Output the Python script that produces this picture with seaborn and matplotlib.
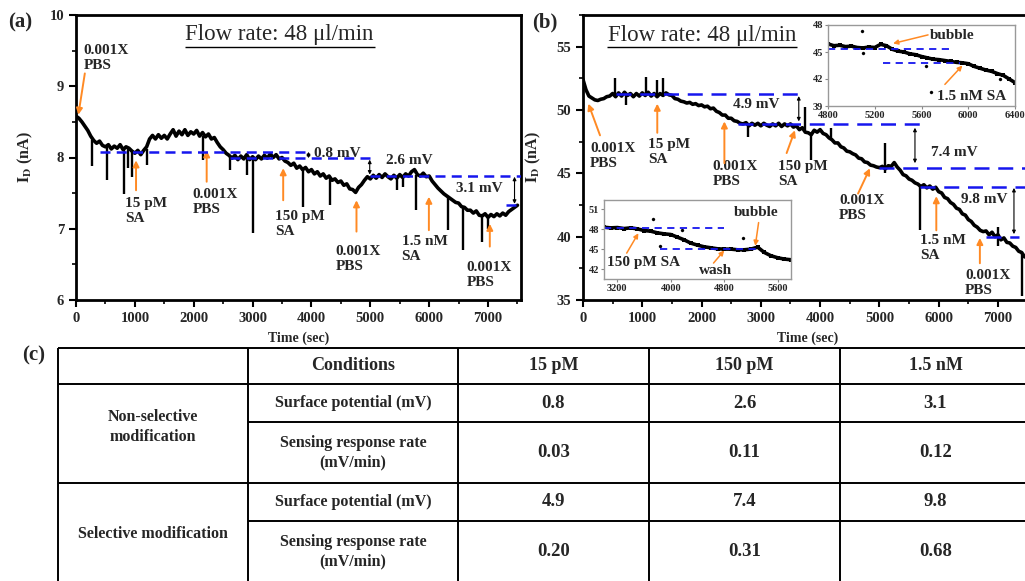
import numpy as np
import matplotlib
matplotlib.use('Agg')
import matplotlib.pyplot as plt
import seaborn as sns
from matplotlib.ticker import MultipleLocator

# ---------------- panel (a): non-selective modification ----------------
time_a = np.arange(0, 7501, 50)
current_a = [
    8.58, 8.55, 8.50, 8.44, 8.38, 8.30, 8.24, 8.20, 8.23, 8.17,
    8.15, 8.18, 8.12, 8.16, 8.13, 8.18, 8.11, 8.15, 8.13, 8.09,
    8.06, 8.10, 8.04, 8.10, 8.15, 8.26, 8.31, 8.26, 8.32, 8.27,
    8.31, 8.26, 8.33, 8.39, 8.30, 8.37, 8.32, 8.39, 8.31, 8.36,
    8.33, 8.38, 8.30, 8.35, 8.29, 8.33, 8.26, 8.28, 8.21, 8.15,
    8.11, 8.06, 8.03, 7.99, 8.03, 7.97, 8.02, 7.98, 8.04, 7.97,
    8.01, 7.97, 8.02, 7.98, 8.03, 7.99, 8.05, 8.00, 8.04, 7.98,
    8.00, 7.95, 7.93, 7.89, 7.92, 7.85, 7.88, 7.83, 7.86, 7.80,
    7.83, 7.77, 7.80, 7.74, 7.77, 7.71, 7.74, 7.68, 7.70, 7.65,
    7.67, 7.61, 7.63, 7.56, 7.55, 7.51, 7.58, 7.62, 7.68, 7.73,
    7.70, 7.75, 7.71, 7.76, 7.72, 7.77, 7.73, 7.70, 7.75, 7.71,
    7.76, 7.72, 7.77, 7.74, 7.80, 7.83, 7.76, 7.74, 7.78, 7.73,
    7.74, 7.67, 7.62, 7.57, 7.53, 7.49, 7.46, 7.43, 7.40, 7.37,
    7.36, 7.31, 7.30, 7.26, 7.26, 7.22, 7.25, 7.19, 7.18, 7.21,
    7.16, 7.20, 7.17, 7.21, 7.18, 7.22, 7.19, 7.24, 7.27, 7.30,
    7.33,
]
spike_t_a = [266, 521, 815, 889, 957, 1200, 2150, 2610, 2910, 3000,
             3850, 4310, 5450, 5560, 5784, 6320, 6576, 6905, 7000]
spike_lo_a = [7.88, 7.68, 7.49, 7.85, 7.72, 7.90, 7.96, 7.82, 7.75, 6.94,
              7.30, 7.33, 7.55, 7.58, 7.26, 6.98, 6.70, 6.82, 7.00]
spike_hi_a = [8.25, 8.15, 8.12, 8.12, 8.10, 8.12, 8.30, 8.04, 8.00, 8.00,
              7.84, 7.72, 7.72, 7.73, 7.76, 7.46, 7.31, 7.19, 7.17]

base_y_a = [8.08, 7.99, 7.735, 7.34]
base_x0_a = [407, 2615, 4990, 7300]
base_x1_a = [3940, 5045, 7560, 7560]

shift_x_a = [3950, 4990, 7450]
shift_top_a = [8.08, 7.97, 7.73]
shift_bot_a = [7.99, 7.76, 7.35]
shift_labels_a = ['0.8 mV', '2.6 mV', '3.1 mV']
shift_lx_a = [4041, 5275, 6463]
shift_ly_a = [8.06, 7.955, 7.57]

event_labels_a = ['0.001X\nPBS', '15 pM\nSA', '0.001X\nPBS', '150 pM\nSA',
                  '0.001X\nPBS', '1.5 nM\nSA', '0.001X\nPBS']
event_lx_a = [124, 832, 1981, 3379, 4414, 5530, 6633]
event_ly_a = [9.40, 7.25, 7.37, 7.06, 6.57, 6.71, 6.35]
arrow_tail_a = [(150, 9.18), (1020, 7.54), (2220, 7.66), (3520, 7.40),
                (4765, 6.96), (5995, 6.98), (7030, 6.75)]
arrow_head_a = [(40, 8.60), (1020, 7.96), (2220, 8.10), (3520, 7.85),
                (4765, 7.40), (5995, 7.45), (7030, 7.07)]

# ---------------- panel (b): selective modification ----------------
time_b = np.arange(0, 7451, 50)
current_b = [
    52.4, 51.6, 51.1, 50.95, 50.8, 50.75, 50.85, 50.9, 51.05, 51.1,
    51.3, 51.05, 51.35, 51.1, 51.4, 51.15, 51.3, 51.05, 51.3, 51.1,
    51.35, 51.15, 51.4, 51.1, 51.3, 51.05, 51.3, 51.15, 51.35, 51.2,
    51.15, 50.9, 50.85, 50.7, 50.65, 50.55, 50.6, 50.45, 50.5, 50.35,
    50.4, 50.25, 50.3, 50.1, 50.15, 49.9, 49.8, 49.6, 49.6, 49.35,
    49.35, 49.15, 49.1, 48.95, 48.9, 49.0, 48.75, 48.95, 48.8, 48.95,
    48.75, 48.95, 48.8, 48.7, 48.9, 48.75, 48.95, 48.7, 48.9, 48.75,
    48.9, 48.65, 48.75, 48.45, 48.6, 48.25, 48.2, 48.05, 48.4, 48.25,
    48.45, 48.15, 48.05, 47.8, 47.65, 47.4, 47.4, 47.1, 47.0, 46.75,
    46.7, 46.55, 46.45, 46.2, 46.15, 45.9, 45.85, 45.65, 45.6, 45.5,
    45.45, 45.55, 45.35, 45.6, 45.55, 45.85, 45.5, 45.25, 44.9, 44.8,
    44.55, 44.45, 44.25, 44.15, 43.95, 44.1, 43.85, 44.0, 43.75, 43.9,
    43.55, 43.45, 43.1, 43.0, 42.7, 42.55, 42.25, 42.15, 41.8, 41.7,
    41.35, 41.2, 40.9, 40.75, 40.5, 40.4, 40.45, 40.15, 40.35, 40.0,
    40.15, 39.75, 39.9, 39.55, 39.5, 39.25, 39.15, 38.85, 38.75, 38.4,
]
spike_t_b = [540, 725, 1062, 1253, 1343, 2790, 3745, 3845, 4190, 5090,
             5680, 7000, 7400]
spike_lo_b = [51.2, 50.4, 51.1, 51.1, 51.1, 47.9, 48.4, 46.05, 47.7, 45.0,
              40.5, 39.3, 35.3]
spike_hi_b = [52.5, 51.3, 52.6, 52.4, 52.5, 48.9, 50.2, 48.2, 48.55, 47.4,
              44.1, 40.8, 38.7]

base_y_b = [51.25, 48.9, 45.45, 43.95, 40.0]
base_x0_b = [560, 2610, 4990, 5680, 6790]
base_x1_b = [3690, 5820, 7500, 7500, 7350]

shift_x_b = [3640, 5600, 7270]
shift_top_b = [51.1, 48.6, 43.85]
shift_bot_b = [49.1, 45.8, 40.2]
shift_labels_b = ['4.9 mV', '7.4 mV', '9.8 mV']
shift_lx_b = [2535, 5863, 6369]
shift_ly_b = [50.4, 46.63, 42.9]

event_labels_b = ['0.001X\nPBS', '15 pM\nSA', '0.001X\nPBS', '150 pM\nSA',
                  '0.001X\nPBS', '1.5 nM\nSA', '0.001X\nPBS']
event_lx_b = [118, 1101, 2187, 3294, 4322, 5683, 6442]
event_ly_b = [46.38, 46.68, 44.93, 44.93, 42.24, 39.07, 36.38]
arrow_tail_b = [(287, 48.0), (1253, 48.2), (2385, 45.8), (3435, 46.6),
                (4640, 43.4), (5960, 40.5), (6695, 37.9)]
arrow_head_b = [(90, 50.5), (1253, 50.5), (2385, 49.1), (3575, 48.4),
                (4840, 45.4), (5960, 43.2), (6695, 39.9)]

# ---------------- insets of panel (b) ----------------
time_in1 = np.arange(4800, 6401, 50)
current_in1 = [45.9, 45.7, 45.75, 45.6, 45.65, 45.5, 45.45, 45.55, 45.5, 45.85,
               45.7, 45.3, 45.1, 45.0, 44.8, 44.7, 44.5, 44.35, 44.2, 44.15,
               44.05, 43.95, 43.85, 43.8, 43.7, 43.4, 43.2, 43.0, 42.85, 42.6,
               42.4, 42.0, 41.6]
stray_t_in1 = [5090, 5100, 5640, 6270, 5680]
stray_i_in1 = [47.3, 44.9, 43.5, 42.0, 40.6]

time_in2 = np.arange(3000, 5801, 100)
current_in2 = [48.3, 48.2, 48.25, 48.1, 48.2, 48.05, 47.8, 47.7, 47.45, 47.3,
               47.2, 46.8, 46.4, 45.9, 45.6, 45.35, 45.2, 45.05, 45.0, 45.0,
               44.9, 44.9, 45.0, 45.3, 44.5, 44.0, 43.7, 43.5, 43.4]
stray_t_in2 = [3730, 3840, 4165, 5080]
stray_i_in2 = [49.55, 45.4, 47.9, 46.75]

# ---------------- table (c) ----------------
conditions = ['15 pM', '150 pM', '1.5 nM']
groups = ['Non-selective\nmodification', 'Selective modification']
metrics = ['Surface potential (mV)', 'Sensing response rate\n(mV/min)']
surface_nonsel = [0.8, 2.6, 3.1]
rate_nonsel = [0.03, 0.11, 0.12]
surface_sel = [4.9, 7.4, 9.8]
rate_sel = [0.20, 0.31, 0.68]

ORANGE = '#FF8A24'
BLUE = '#1616EE'

sns.set_style('ticks')
plt.rcParams['font.family'] = ['Liberation Serif', 'DejaVu Serif']
plt.rcParams['font.weight'] = 'bold'
plt.rcParams['axes.labelweight'] = 'bold'
plt.rcParams['mathtext.fontset'] = 'stix'

W, H = 1025, 581
fig = plt.figure(figsize=(W / 100, H / 100), dpi=100)


def rect(l, t, r, b):
    return [l / W, 1 - b / H, (r - l) / W, (b - t) / H]


ax_t = fig.add_axes([0, 0, 1, 1], zorder=-1)
ax_a = fig.add_axes(rect(76, 15, 521, 300))
ax_b = fig.add_axes(rect(583, 15, 1027, 300))
ins1 = fig.add_axes(rect(828, 25, 1015, 106))
ins2 = fig.add_axes(rect(604, 200, 791, 279))


def style_main(ax, xlim, ylim, yticks, yminor):
    ax.set_xlim(*xlim)
    ax.set_ylim(*ylim)
    ax.set_xticks(range(0, 7001, 1000))
    ax.xaxis.set_minor_locator(MultipleLocator(500))
    ax.set_yticks(yticks)
    ax.yaxis.set_minor_locator(MultipleLocator(yminor))
    ax.tick_params(which='major', direction='out', length=5, width=1.5,
                   labelsize=10.5, color='black')
    ax.tick_params(which='minor', direction='out', length=3, width=1.2,
                   color='black')
    for s in ax.spines.values():
        s.set_linewidth(2)
        s.set_color('black')
    ax.set_xlabel('Time (sec)', fontsize=10)
    ax.set_ylabel(r'$\mathbf{I}_\mathbf{D}$ (nA)', fontsize=11.5)
    ax.xaxis.set_label_coords(0.5, -0.112)


def draw_panel(ax, t, cur, st, slo, shi, by, bx0, bx1, dash,
               sx, stop, sbot, slab, slx, sly, elab, elx, ely, tails, heads):
    sns.lineplot(x=t, y=cur, ax=ax, color='black', linewidth=2.6,
                 estimator=None, sort=False)
    ax.vlines(st, slo, shi, color='black', lw=1.7)
    ax.hlines(by, bx0, bx1, colors=BLUE, linestyles=[dash], lw=1.8, zorder=4)
    for x, a, b in zip(sx, stop, sbot):
        ax.annotate('', xy=(x, b), xytext=(x, a),
                    arrowprops=dict(arrowstyle='<|-|>', color='black', lw=0.8,
                                    mutation_scale=5, shrinkA=0, shrinkB=0))
    for s, x, y in zip(slab, slx, sly):
        ax.text(x, y, s, fontsize=11, ha='left', va='center')
    for s, x, y in zip(elab, elx, ely):
        ax.text(x, y, s, fontsize=11, ha='left', va='center', linespacing=1.2)
    for tl, hd in zip(tails, heads):
        ax.annotate('', xy=hd, xytext=tl,
                    arrowprops=dict(arrowstyle='-|>', color=ORANGE, lw=1.4,
                                    mutation_scale=9, shrinkA=0, shrinkB=0))


# panel (a)
draw_panel(ax_a, time_a, current_a, spike_t_a, spike_lo_a, spike_hi_a,
           base_y_a, base_x0_a, base_x1_a, (0, (4, 2.5)),
           shift_x_a, shift_top_a, shift_bot_a, shift_labels_a, shift_lx_a, shift_ly_a,
           event_labels_a, event_lx_a, event_ly_a, arrow_tail_a, arrow_head_a)
style_main(ax_a, (0, 7560), (6, 10), [6, 7, 8, 9, 10], 0.5)
ax_a.yaxis.set_label_coords(-0.092, 0.5)
ax_a.text(3460, 9.72, u'Flow rate: 48 \u03bcl/min', fontsize=16.5,
          fontweight='normal', ha='center', va='center')
ax_a.hlines(9.555, 1850, 5075, color='black', lw=1)

# panel (b)
draw_panel(ax_b, time_b, current_b, spike_t_b, spike_lo_b, spike_hi_b,
           base_y_b, base_x0_b, base_x1_b, (0, (6, 3.5)),
           shift_x_b, shift_top_b, shift_bot_b, shift_labels_b, shift_lx_b, shift_ly_b,
           event_labels_b, event_lx_b, event_ly_b, arrow_tail_b, arrow_head_b)
style_main(ax_b, (0, 7490), (35, 57.5), [35, 40, 45, 50, 55], 2.5)
ax_b.yaxis.set_label_coords(-0.09, 0.5)
ax_b.xaxis.set_label_coords(0.507, -0.112)
ax_b.text(2007, 55.92, u'Flow rate: 48 \u03bcl/min', fontsize=16.5,
          fontweight='normal', ha='center', va='center')
ax_b.hlines(55.0, 405, 3610, color='black', lw=1)


def style_inset(ax, xlim, ylim, xt, yt):
    ax.set_xlim(*xlim)
    ax.set_ylim(*ylim)
    ax.set_xticks(xt)
    ax.set_yticks(yt)
    ax.set_xlabel('')
    ax.set_ylabel('')
    ax.tick_params(direction='out', length=2, width=0.8, labelsize=7.5,
                   pad=1.5, color='#888888')
    for s in ax.spines.values():
        s.set_linewidth(1)
        s.set_color('#999999')


sns.lineplot(x=time_in1, y=current_in1, ax=ins1, color='black', linewidth=2.6,
             marker='s', markersize=2.5, markeredgewidth=0, estimator=None, sort=False)
sns.scatterplot(x=stray_t_in1, y=stray_i_in1, ax=ins1, color='black', s=5,
                edgecolor=None)
ins1.hlines([45.35, 43.8], [4800, 5270], [5840, 5930], colors=BLUE,
            linestyles=[(0, (4, 3))], lw=1.3)
ins1.annotate('', xy=(5357, 45.95), xytext=(5656, 46.9),
              arrowprops=dict(arrowstyle='-|>', color=ORANGE, lw=1.1,
                              mutation_scale=7, shrinkA=0, shrinkB=0))
ins1.annotate('', xy=(5950, 43.5), xytext=(5800, 41.4),
              arrowprops=dict(arrowstyle='-|>', color=ORANGE, lw=1.1,
                              mutation_scale=7, shrinkA=0, shrinkB=0))
ins1.text(5673, 46.8, 'bubble', fontsize=11, ha='left', va='center')
ins1.text(5730, 40.1, '1.5 nM SA', fontsize=11, ha='left', va='center')
style_inset(ins1, (4800, 6400), (39, 48), [4800, 5200, 5600, 6000, 6400],
            [39, 42, 45, 48])

sns.lineplot(x=time_in2, y=current_in2, ax=ins2, color='black', linewidth=2.6,
             marker='s', markersize=2.5, markeredgewidth=0, estimator=None, sort=False)
sns.scatterplot(x=stray_t_in2, y=stray_i_in2, ax=ins2, color='black', s=5,
                edgecolor=None)
ins2.hlines([48.15, 45.0], [3000, 3840], [4800, 5340], colors=BLUE,
            linestyles=[(0, (4, 3))], lw=1.3)
for tl, hd in [((3340, 44.4), (3515, 47.4)), ((4640, 42.9), (4800, 44.8)),
               ((5315, 49.0), (5265, 45.5))]:
    ins2.annotate('', xy=hd, xytext=tl,
                  arrowprops=dict(arrowstyle='-|>', color=ORANGE, lw=1.1,
                                  mutation_scale=7, shrinkA=0, shrinkB=0))
ins2.text(3040, 42.97, '150 pM SA', fontsize=11, ha='left', va='center')
ins2.text(4415, 41.85, 'wash', fontsize=11, ha='left', va='center')
ins2.text(4950, 50.5, 'bubble', fontsize=11, ha='left', va='center')
style_inset(ins2, (3000, 5800), (40.5, 52.4), [3200, 4000, 4800, 5600],
            [42, 45, 48, 51])

# table (c), drawn in pixel coordinates of the figure
ax_t.set_xlim(0, W)
ax_t.set_ylim(H, 0)
ax_t.axis('off')
col_edges = [58, 248, 458, 649, 840, 1031]
row_edges = [348, 384, 422, 483, 521, 583]
ax_t.hlines([row_edges[0], row_edges[1], row_edges[3]], col_edges[0], col_edges[-1],
            color='black', lw=1.4)
ax_t.hlines([row_edges[2], row_edges[4]], col_edges[1], col_edges[-1],
            color='black', lw=1.4)
ax_t.vlines(col_edges[:-1], row_edges[0], row_edges[-1], color='black', lw=1.4)

col_mid = [(a + b) / 2 for a, b in zip(col_edges[:-1], col_edges[1:])]
row_mid = [(a + b) / 2 for a, b in zip(row_edges[:-1], row_edges[1:])]

ax_t.text(col_mid[1], row_mid[0], 'Conditions', fontsize=13, ha='center', va='center')
for j, c in enumerate(conditions):
    ax_t.text(col_mid[2 + j], row_mid[0], c, fontsize=13, ha='center', va='center')

ax_t.text(col_mid[0], 427, groups[0], fontsize=11.5, ha='center', va='center',
          linespacing=1.3)
ax_t.text(col_mid[0], 534, groups[1], fontsize=11.5, ha='center', va='center')

table_rows = [(metrics[0], surface_nonsel, '{:.1f}'), (metrics[1], rate_nonsel, '{:.2f}'),
              (metrics[0], surface_sel, '{:.1f}'), (metrics[1], rate_sel, '{:.2f}')]
for i, (label, vals, fmt) in enumerate(table_rows):
    y = row_mid[i + 1]
    ax_t.text(col_mid[1], y, label, fontsize=11.5, ha='center', va='center',
              linespacing=1.3)
    for j, v in enumerate(vals):
        ax_t.text(col_mid[2 + j], y, fmt.format(v), fontsize=13.5, ha='center',
                  va='center')

ax_t.text(8, 22, '(a)', fontsize=15, ha='left', va='center')
ax_t.text(532, 22, '(b)', fontsize=15, ha='left', va='center')
ax_t.text(22, 355, '(c)', fontsize=15, ha='left', va='center')

fig.savefig('out.png', dpi=100)
